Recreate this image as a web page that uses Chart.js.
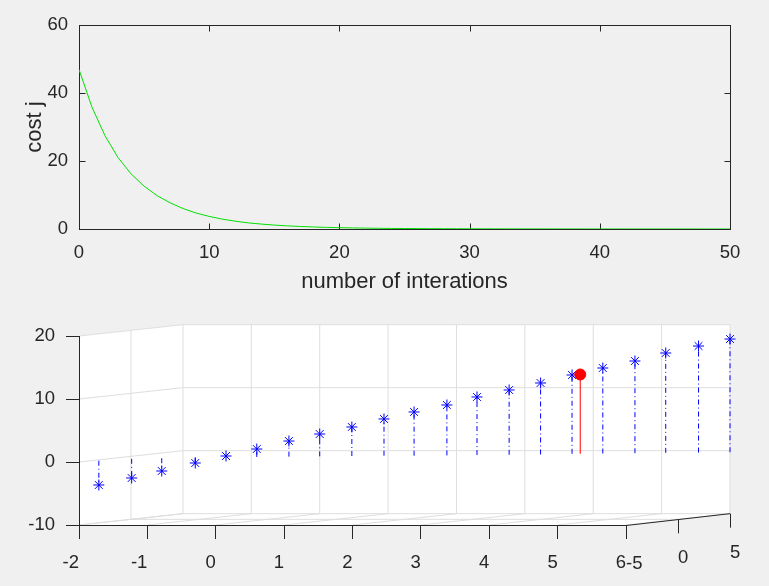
<!DOCTYPE html>
<html>
<head>
<meta charset="utf-8">
<script src="https://cdn.jsdelivr.net/npm/chart.js@4.4.1/dist/chart.umd.min.js"></script>
<style>
  html, body { margin: 0; padding: 0; background: #f0f0f0; }
  #top { position: absolute; left: 0; top: 0; width: 769px; height: 300px; }
  #bottom { position: absolute; left: 0; top: 300px; width: 769px; height: 286px; }
</style>
</head>
<body>
<div id="top"><canvas id="costChart"></canvas></div>
<div id="bottom"><canvas id="stemChart"></canvas></div>
<script>
// cost j per iteration
const costValues = [
  46.9, 35.8, 27.4, 21.0, 16.2, 12.6, 9.8, 7.7, 6.0, 4.7,
  3.7, 2.9, 2.3, 1.8, 1.45, 1.15, 0.92, 0.74, 0.6, 0.48,
  0.39, 0.32, 0.26, 0.21, 0.17, 0.14, 0.12, 0.1, 0.08, 0.07,
  0.06, 0.05, 0.04, 0.035, 0.03, 0.025, 0.02, 0.018, 0.015, 0.013,
  0.011, 0.01, 0.009, 0.008, 0.007, 0.006, 0.005, 0.005, 0.004, 0.004, 0.003
];
const costXTicks = [0, 10, 20, 30, 40, 50];
const costYTicks = [0, 20, 40, 60];

// lower plot (stem3), values as they appear projected on the front plane
const stemX = [-1.71, -1.23, -0.79, -0.30, 0.15, 0.60, 1.07, 1.52, 1.99, 2.46, 2.90,
  3.38, 3.82, 4.29, 4.75, 5.21, 5.66, 6.13, 6.58, 7.06, 7.52];
const stemZ = [-3.65, -2.54, -1.43, -0.16, 0.95, 2.06, 3.33, 4.44, 5.56, 6.83, 7.94,
  9.05, 10.32, 11.43, 12.54, 13.81, 14.92, 16.03, 17.30, 18.41, 19.52];
const stemBase = [0.2, 0.5, 0.6, 0.7, 0.75, 0.8, 0.85, 0.9, 0.95, 1.0, 1.0,
  1.05, 1.1, 1.15, 1.2, 1.3, 1.35, 1.4, 1.45, 1.5, 1.55];
const pickX = [5.33];
const pickZ = [13.89];
const pickBase = [1.3];
const xTicks = [-2, -1, 0, 1, 2, 3, 4, 5, 6];
const zTicks = [-10, 0, 10, 20];
const depthLabels = ['-5', '0', '5'];

const FONT = "'Liberation Sans', Arial, Helvetica, sans-serif";
const TXT = '#262626';
const GRID = '#dedede';
// how far the back of the 3-D box is shifted, in axis units
const DX = 1.52, DZ = 1.8;

const setTicks = list => scale => { scale.ticks = list.map(v => ({ value: v })); };

// box + inward ticks of the 2-D plot
const boxPlugin = {
  id: 'boxTicks',
  beforeDatasetsDraw(chart) {
    const { ctx, chartArea: a, scales: { x, y } } = chart;
    const L = Math.round(a.left) + 0.5, R = Math.round(a.right) + 0.5;
    const T = Math.round(a.top) + 0.5, B = Math.round(a.bottom) + 0.5;
    ctx.save();
    ctx.strokeStyle = TXT;
    ctx.lineWidth = 1;
    ctx.strokeRect(L, T, R - L, B - T);
    ctx.beginPath();
    costXTicks.forEach(v => {
      const px = Math.round(x.getPixelForValue(v)) + 0.5;
      ctx.moveTo(px, B); ctx.lineTo(px, B - 6);
      ctx.moveTo(px, T); ctx.lineTo(px, T + 6);
    });
    costYTicks.forEach(v => {
      const py = Math.round(y.getPixelForValue(v)) + 0.5;
      ctx.moveTo(L, py); ctx.lineTo(L + 6, py);
      ctx.moveTo(R, py); ctx.lineTo(R - 6, py);
    });
    ctx.stroke();
    ctx.restore();
  }
};

// walls and grid of the 3-D box, drawn under the axes
const wallPlugin = {
  id: 'walls3d',
  beforeDraw(chart) {
    const { ctx, scales: { x, y } } = chart;
    const P = (xv, zv) => [x.getPixelForValue(xv), y.getPixelForValue(zv)];
    const x0 = xTicks[0], x1 = xTicks[xTicks.length - 1];
    const z0 = zTicks[0], z1 = zTicks[zTicks.length - 1];
    ctx.save();
    ctx.fillStyle = '#ffffff';
    ctx.beginPath();
    [[x0, z0], [x0, z1], [x0 + DX, z1 + DZ], [x1 + DX, z1 + DZ], [x1 + DX, z0 + DZ], [x1, z0]]
      .forEach(([a, b], i) => { const [px, py] = P(a, b); i ? ctx.lineTo(px, py) : ctx.moveTo(px, py); });
    ctx.closePath();
    ctx.fill();

    ctx.strokeStyle = GRID;
    ctx.lineWidth = 1;
    ctx.beginPath();
    const seg = (a, b, c, d) => {
      const [p1, q1] = P(a, b), [p2, q2] = P(c, d);
      ctx.moveTo(p1, q1); ctx.lineTo(p2, q2);
    };
    // back wall
    xTicks.forEach(v => seg(v + DX, z0 + DZ, v + DX, z1 + DZ));
    zTicks.forEach(v => seg(x0 + DX, v + DZ, x1 + DX, v + DZ));
    // left wall
    zTicks.forEach(v => seg(x0, v, x0 + DX, v + DZ));
    seg(x0 + DX / 2, z0 + DZ / 2, x0 + DX / 2, z1 + DZ / 2);
    // floor
    xTicks.forEach(v => seg(v, z0, v + DX, z0 + DZ));
    seg(x0 + DX / 2, z0 + DZ / 2, x1 + DX / 2, z0 + DZ / 2);
    ctx.stroke();
    ctx.restore();
  },
  beforeDatasetsDraw(chart) {
    const { ctx, scales: { x, y } } = chart;
    const P = (xv, zv) => [x.getPixelForValue(xv), y.getPixelForValue(zv)];
    const x0 = xTicks[0], x1 = xTicks[xTicks.length - 1], z0 = zTicks[0];
    ctx.save();
    ctx.strokeStyle = TXT;
    ctx.lineWidth = 1;
    ctx.beginPath();
    let [a, b] = P(x0, z0);
    ctx.moveTo(a, b + 0.5);
    [a, b] = P(x1, z0);
    ctx.lineTo(a, b + 0.5);
    const [c, d] = P(x1 + DX, z0 + DZ);
    ctx.lineTo(c, d);
    // depth axis ticks
    depthLabels.forEach((t, i) => {
      const f = i / (depthLabels.length - 1);
      const [px, py] = P(x1 + DX * f, z0 + DZ * f);
      ctx.moveTo(Math.round(px) + 0.5, py);
      ctx.lineTo(Math.round(px) + 0.5, py + 14);
    });
    ctx.stroke();
    ctx.fillStyle = TXT;
    ctx.font = '18.5px ' + FONT;
    ctx.textAlign = 'left';
    ctx.textBaseline = 'middle';
    depthLabels.forEach((t, i) => {
      const f = i / (depthLabels.length - 1);
      const [px, py] = P(x1 + DX * f, z0 + DZ * f);
      ctx.fillText(t, px, py + 39);
    });
    ctx.restore();
  }
};

new Chart(document.getElementById('costChart'), {
  type: 'line',
  data: {
    datasets: [{
      data: costValues.map((v, i) => ({ x: i, y: v })),
      borderColor: '#00e000',
      borderWidth: 1,
      pointRadius: 0,
      tension: 0
    }]
  },
  options: {
    responsive: true,
    maintainAspectRatio: false,
    animation: false,
    events: [],
    layout: { padding: { top: 25, right: 39, left: 0, bottom: 0 } },
    plugins: { legend: { display: false }, tooltip: { enabled: false } },
    scales: {
      x: {
        type: 'linear', min: 0, max: 50,
        afterBuildTicks: setTicks(costXTicks),
        afterFit: s => { s.height = 71; },
        grid: { display: false, drawTicks: false },
        border: { display: false },
        ticks: { color: TXT, font: { family: FONT, size: 18.5 }, padding: 13, maxRotation: 0, autoSkip: false },
        title: { display: true, text: 'number of interations', color: TXT,
          font: { family: FONT, size: 22 }, padding: { top: 0, bottom: 5 } }
      },
      y: {
        min: 0, max: 60,
        afterBuildTicks: setTicks(costYTicks),
        afterFit: s => { s.width = 79; },
        grid: { display: false, drawTicks: false },
        border: { display: false },
        ticks: { color: TXT, font: { family: FONT, size: 18.5 }, padding: 11 },
        title: { display: true, text: 'cost j', color: TXT,
          font: { family: FONT, size: 22 }, padding: { top: 22, bottom: 0 } }
      }
    }
  },
  plugins: [boxPlugin]
});

// stems: base -> top, broken with a gap after each one
const stemPoints = [];
stemX.forEach((xv, i) => {
  stemPoints.push({ x: xv, y: stemBase[i] }, { x: xv, y: stemZ[i] }, { x: xv, y: null });
});
const pickStem = [];
pickX.forEach((xv, i) => {
  pickStem.push({ x: xv, y: pickBase[i] }, { x: xv, y: pickZ[i] }, { x: xv, y: null });
});

new Chart(document.getElementById('stemChart'), {
  type: 'scatter',
  data: {
    datasets: [
      {
        data: pickX.map((xv, i) => ({ x: xv, y: pickZ[i] })),
        pointStyle: 'circle', pointRadius: 5.5, clip: false,
        backgroundColor: '#ff0000', borderColor: '#ff0000', borderWidth: 1, order: 0
      },
      {
        data: stemX.map((xv, i) => ({ x: xv, y: stemZ[i] })),
        pointStyle: 'star', pointRadius: 5.5, clip: false,
        borderColor: '#0000ff', backgroundColor: 'rgba(0,0,0,0)', borderWidth: 1, order: 1
      },
      {
        type: 'line', data: pickStem, showLine: true, spanGaps: false, clip: false,
        borderColor: '#ff0000', borderWidth: 1, pointRadius: 0, order: 2
      },
      {
        type: 'line', data: stemPoints, showLine: true, spanGaps: false, clip: false,
        borderColor: '#0000ff', borderWidth: 1, borderDash: [5, 3, 1, 3], pointRadius: 0, order: 3
      }
    ]
  },
  options: {
    responsive: true,
    maintainAspectRatio: false,
    animation: false,
    events: [],
    layout: { padding: { top: 36, right: 39, left: 0, bottom: 0 } },
    plugins: { legend: { display: false }, tooltip: { enabled: false } },
    scales: {
      x: {
        type: 'linear', min: xTicks[0], max: xTicks[xTicks.length - 1] + DX,
        afterBuildTicks: setTicks(xTicks),
        afterFit: s => { s.height = 61; },
        grid: { display: true, drawOnChartArea: false, drawTicks: true, tickLength: 14, color: TXT },
        border: { display: false },
        ticks: { color: TXT, font: { family: FONT, size: 18.5 }, padding: 13, align: 'end',
          maxRotation: 0, autoSkip: false }
      },
      y: {
        min: zTicks[0], max: zTicks[zTicks.length - 1],
        afterBuildTicks: setTicks(zTicks),
        afterFit: s => { s.width = 79; },
        grid: { display: true, drawOnChartArea: false, drawTicks: true, tickLength: 13, color: TXT },
        border: { display: true, color: TXT, width: 1 },
        ticks: { color: TXT, font: { family: FONT, size: 18.5 }, padding: 11 }
      }
    }
  },
  plugins: [wallPlugin]
});
</script>
</body>
</html>
